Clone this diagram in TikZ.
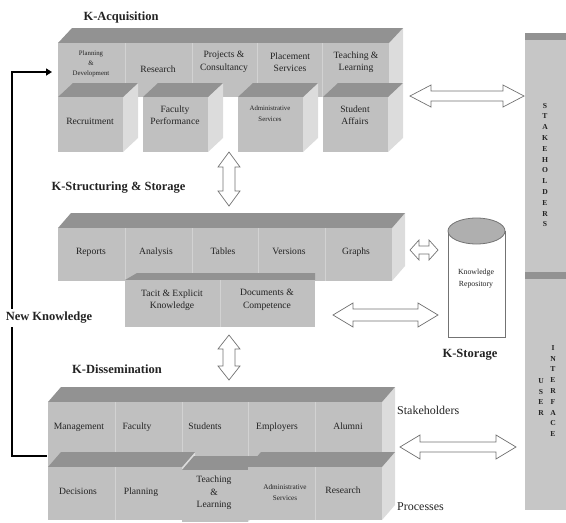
\documentclass[tikz,border=0pt]{standalone}
\usepackage{fontspec}
\setmainfont{Liberation Serif}
\usetikzlibrary{arrows.meta,calc}
\definecolor{frontc}{RGB}{192,192,192}
\definecolor{topc}{RGB}{146,146,146}
\definecolor{sidec}{RGB}{220,220,220}
\definecolor{divc}{RGB}{210,210,210}
\definecolor{arrc}{RGB}{115,115,115}
\definecolor{barc}{RGB}{198,198,198}
\definecolor{txtc}{RGB}{35,35,35}
\definecolor{ellc}{RGB}{175,175,175}
\newcommand{\cubeblk}[6]{%
  \fill[sidec] (#3,#2) -- ({#3+#5},{#2-#6}) -- ({#3+#5},{#4-#6}) -- (#3,#4) -- cycle;
  \fill[topc] (#1,#2) -- ({#1+#5},{#2-#6}) -- ({#3+#5},{#2-#6}) -- (#3,#2) -- cycle;
  \fill[frontc] (#1,#2) rectangle (#3,#4);}
\newcommand{\hdarr}[6]{%
  \draw[hollow] (#1,#3) -- ({#1+#4},{#3-#5}) -- ({#1+#4},{#3-#6}) -- ({#2-#4},{#3-#6}) -- ({#2-#4},{#3-#5}) -- (#2,#3)
   -- ({#2-#4},{#3+#5}) -- ({#2-#4},{#3+#6}) -- ({#1+#4},{#3+#6}) -- ({#1+#4},{#3+#5}) -- cycle;}
\newcommand{\vdarr}[6]{%
  \draw[hollow] (#1,#2) -- ({#1+#5},{#2+#4}) -- ({#1+#6},{#2+#4}) -- ({#1+#6},{#3-#4}) -- ({#1+#5},{#3-#4}) -- (#1,#3)
   -- ({#1-#5},{#3-#4}) -- ({#1-#6},{#3-#4}) -- ({#1-#6},{#2+#4}) -- ({#1-#5},{#2+#4}) -- cycle;}
\tikzset{
  hollow/.style={draw=arrc, fill=white, line width=0.7pt, line join=miter},
  lab/.style={font=\fontsize{9.6}{12.5}\selectfont, align=center, text=txtc, inner sep=0pt},
  one/.style={lab, text height=7pt, text depth=2pt},
  slab/.style={lab, font=\fontsize{6.8}{10}\selectfont},
  hdg/.style={font=\bfseries\fontsize{12.5}{14}\selectfont, text=txtc},
  side/.style={font=\fontsize{12}{14}\selectfont, text=txtc, inner sep=0pt},
  vlet/.style={font=\bfseries\fontsize{7.6}{10.8}\selectfont, align=center, text=txtc, inner sep=0pt},
  divl/.style={draw=divc, line width=0.8pt},
  fbline/.style={line width=2.5pt, line join=miter}
}
\begin{document}
\begin{tikzpicture}[x=1pt,y=-1pt]
\useasboundingbox (0,0) rectangle (566,523);
% ---------- right bar ----------
\fill[barc] (525,40) rectangle (566,272);
\fill[topc] (525,33) rectangle (566,40);
\fill[topc] (525,272) rectangle (566,279);
\fill[barc] (525,279) rectangle (566,510);
\node[vlet] (stk) at (545,165) {S\\T\\A\\K\\E\\H\\O\\L\\D\\E\\R\\S};
\node[vlet] (usr) at (541,397) {U\\S\\E\\R};
\node[vlet] (intf) at (553,391) {I\\N\\T\\E\\R\\F\\A\\C\\E};
% ---------- K-Acquisition ----------
\node[hdg, anchor=west] (kacq) at (80,17) {K-Acquisition};
\cubeblk{58}{43}{389}{97}{14}{15}
\foreach \xx in {125,192,257,322} \draw[divl] (\xx,43) -- (\xx,97);
\node[slab] (pd) at (91,64) {Planning\\\&\\Development};
\node[one] (res) at (158,70) {Research};
\node[lab] (pc) at (224,62) {Projects \&\\Consultancy};
\node[lab] (ps) at (290,62) {Placement\\Services};
\node[lab] (tl) at (356,62) {Teaching \&\\Learning};
\cubeblk{58}{97}{123}{152}{15}{14}
\cubeblk{143}{97}{208}{152}{15}{14}
\cubeblk{238}{97}{303}{152}{15}{14}
\cubeblk{323}{97}{388}{152}{15}{14}
\node[one] (rec) at (90,122) {Recruitment};
\node[lab] (fp) at (175,115) {Faculty\\Performance};
\node[slab, font=\fontsize{6.8}{11}\selectfont] (as) at (270,114) {Administrative\\Services};
\node[lab] (sa) at (355,115) {Student\\Affairs};
\hdarr{410}{524}{96}{21}{11}{5}
\vdarr{229}{152}{206}{15}{11}{6}
% ---------- K-Structuring ----------
\node[hdg, anchor=west] (kstr) at (48,188) {K-Structuring \& Storage};
\cubeblk{58}{228}{392}{281}{13}{15}
\foreach \xx in {125,192,258,325} \draw[divl] (\xx,228) -- (\xx,281);
\node[one] (rep) at (91,252) {Reports};
\node[one] (ana) at (156,252) {Analysis};
\node[one] (tab) at (223,252) {Tables};
\node[one] (ver) at (289,252) {Versions};
\node[one] (gra) at (356,252) {Graphs};
\fill[topc] (125,280) -- (137,273) -- (315,273) -- (315,280) -- cycle;
\fill[frontc] (125,280) rectangle (315,327);
\draw[divl] (220,280) -- (220,327);
\node[lab] (tek) at (172,300) {Tacit \& Explicit\\Knowledge};
\node[lab] (dc) at (267,300) {Documents \&\\Competence};
% repository
\fill[white] (448,231) rectangle (505,337);
\draw[arrc, line width=0.8pt] (448,231) -- (448,337) -- (505,337) -- (505,231);
\filldraw[fill=ellc, draw=arrc, line width=0.8pt] (476.5,231) ellipse [x radius=28.5pt, y radius=13pt];
\node[lab, font=\fontsize{7.8}{12}\selectfont] (repo) at (476,279) {Knowledge\\Repository};
\node[hdg] (kst) at (470,355) {K-Storage};
\hdarr{410}{438}{250}{9}{10}{4}
\hdarr{333}{438}{315}{20}{12}{6}
% ---------- New Knowledge feedback ----------
\node[hdg] (nk) at (49,318) {New Knowledge};
\coordinate (fbs) at (47,456);
\coordinate (vl) at (12,0);
\coordinate (fbe) at (52,72);
\draw[fbline] (fbs) -| (nk.south -| vl);
\draw[fbline, -{Triangle[length=6pt,width=7pt]}] (nk.north -| vl) |- (fbe);
% ---------- K-Dissemination ----------
\vdarr{229}{335}{380}{14}{11}{6}
\node[hdg] (kdis) at (117,369) {K-Dissemination};
\cubeblk{48}{402}{382}{467}{13}{15}
\foreach \xx in {115,182,248,315} \draw[divl] (\xx,402) -- (\xx,467);
\node[one] (man) at (79,427) {Management};
\node[one] (fac) at (137,427) {Faculty};
\node[one] (stu) at (205,427) {Students};
\node[one] (emp) at (277,427) {Employers};
\node[one] (alu) at (348,427) {Alumni};
\cubeblk{48}{467}{182}{520}{13}{15}
\draw[divl] (115,467) -- (115,520);
\cubeblk{182}{470}{248}{522}{12}{14}
\cubeblk{248}{467}{382}{520}{13}{15}
\draw[divl] (315,467) -- (315,520);
\node[one] (dec) at (78,492) {Decisions};
\node[one] (pla) at (141,492) {Planning};
\node[lab] (tl2) at (214,493) {Teaching\\\&\\Learning};
\node[slab, font=\fontsize{7.2}{11}\selectfont] (as2) at (285,493) {Administrative\\Services};
\node[one] (res2) at (343,491) {Research};
\node[side, anchor=west] (sth) at (397,410) {Stakeholders};
\node[side, anchor=west] (proc) at (397,507) {Processes};
\hdarr{400}{516}{447}{20}{12}{5}
\end{tikzpicture}
\end{document}
